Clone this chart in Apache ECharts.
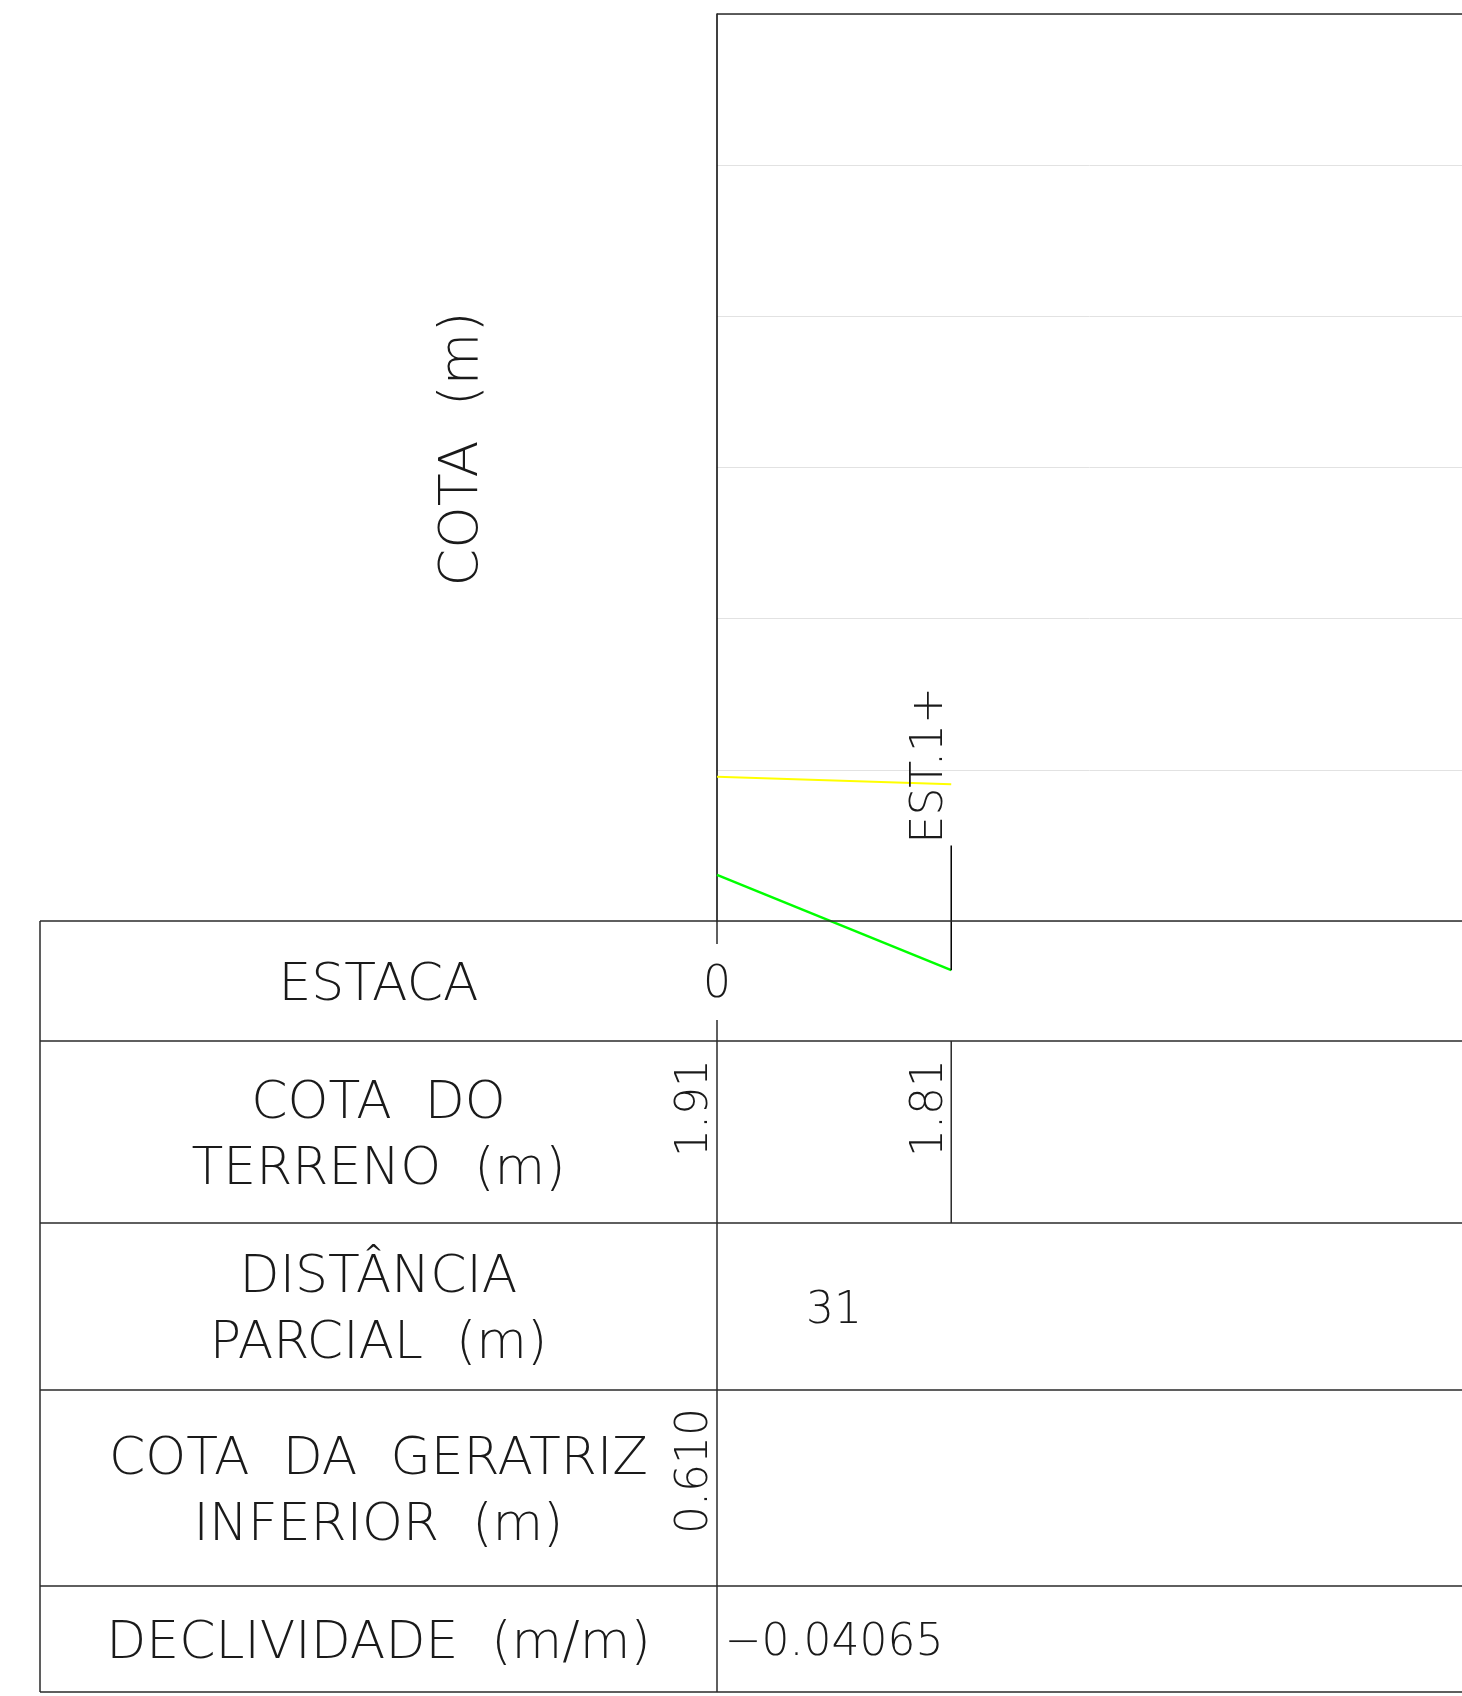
<!DOCTYPE html>
<html><head><meta charset="utf-8">
<script src="https://cdn.jsdelivr.net/npm/echarts@6/dist/echarts.min.js"></script>
<style>html,body{margin:0;padding:0;background:#fff}#chart{width:1462px;height:1696px}</style>
</head><body><div id="chart"></div>
<script>
// ---- data ----
const stationDist = [0, 31];
const stationNames = ['0', 'EST.1+'];
const terrainElev = [1.91, 1.81];
const invertElev = [0.610, -0.650];
const invertShown = [true, false];
const partialDist = [31];
const slopes = [-0.04065];
const stationMarkTop = 1.0;
const yAxisTitle = 'COTA  (m)';
const rowLabels = [['ESTACA'], ['COTA  DO', 'TERRENO  (m)'], ['DISTÂNCIA', 'PARCIAL  (m)'], ['COTA  DA  GERATRIZ', 'INFERIOR  (m)'], ['DECLIVIDADE  (m/m)']];

// ---- layout ----
const W = 1462, H = 1696;
const gridLeft = 717, gridTop = 14, gridBottomY = 921;
const tableLeft = 40;
const rowEdges = [921, 1041, 1223, 1390, 1586, 1692];
const FONT = "'DejaVu Sans ExtraLight', 'DejaVu Sans', sans-serif";
const FW = 200;
const TXT = '#1a1a1a';
const LINE = '#2a2a2a';
const DY = 5;     // baseline nudge for horizontal text
const ROT_OFF = 21; // rotated text centre offset left of station line

const chart = echarts.init(document.getElementById('chart'), null, {renderer: 'canvas'});

const option = {
  animation: false,
  backgroundColor: '#ffffff',
  grid: {left: gridLeft, top: gridTop, right: 0, bottom: H - gridBottomY, containLabel: false},
  xAxis: {
    type: 'value', min: 0, max: 98.6,
    axisLine: {show: false}, axisTick: {show: false}, axisLabel: {show: false}, splitLine: {show: false}
  },
  yAxis: {
    type: 'value', min: 0, max: 12, interval: 2,
    axisLine: {show: true, lineStyle: {color: '#000', width: 1.5}},
    axisTick: {show: false}, axisLabel: {show: false},
    splitLine: {show: true, lineStyle: {color: '#e2e2e2', width: 1}}
  },
  series: [
    {
      type: 'line', name: 'terreno', clip: false, symbol: 'none', z: 3,
      data: stationDist.map((d, i) => [d, terrainElev[i]]),
      lineStyle: {color: '#ffff00', width: 2}
    },
    {
      type: 'line', name: 'geratriz', clip: false, symbol: 'none', z: 3,
      data: stationDist.map((d, i) => [d, invertElev[i]]),
      lineStyle: {color: '#00ff00', width: 2.5}
    },
    ...stationDist.slice(1).map((d, k) => ({
      type: 'line', name: 'marco' + (k + 1), clip: false, symbol: 'none', z: 4,
      data: [[d, invertElev[k + 1]], [d, stationMarkTop]],
      lineStyle: {color: '#000', width: 1.5}
    }))
  ]
};
chart.setOption(option);

function px(x, y) { return chart.convertToPixel({gridIndex: 0}, [x, y]); }
function hline(x1, x2, y, w) {
  return {type: 'line', silent: true, z: 10, shape: {x1, y1: y, x2, y2: y}, style: {stroke: LINE, lineWidth: w || 1.5}};
}
function vline(x, y1, y2, w) {
  return {type: 'line', silent: true, z: 10, shape: {x1: x, y1, x2: x, y2}, style: {stroke: LINE, lineWidth: w || 1.5}};
}
function T(text, x, y, size, align, valign, rot) {
  return {type: 'text', silent: true, z: 11, x, y, rotation: rot || 0,
    style: {text, fill: TXT, fontSize: size, fontFamily: FONT, fontWeight: FW,
      align: align, verticalAlign: valign, textAlign: align, textVerticalAlign: valign}};
}

const g = [];
const topY = px(0, 12)[1];
const xs = stationDist.map(d => px(d, 0)[0]);
// top border
g.push(hline(xs[0], W, topY, 1.5));
// table
rowEdges.forEach(y => g.push(hline(tableLeft, W, y, 1.5)));
g.push(vline(tableLeft, rowEdges[0], rowEdges[rowEdges.length - 1]));
g.push(vline(xs[0], rowEdges[1], rowEdges[rowEdges.length - 1]));
g.push(vline(xs[0], rowEdges[0], rowEdges[0] + 23));
g.push(vline(xs[0], rowEdges[1] - 21, rowEdges[1]));
for (let i = 1; i < xs.length; i++) g.push(vline(xs[i], rowEdges[1], rowEdges[2]));

// row labels
const labelCx = (tableLeft + xs[0]) / 2;
rowLabels.forEach((lines, r) => {
  const cy = (rowEdges[r] + rowEdges[r + 1]) / 2 + DY;
  const gap = 66;
  lines.forEach((ln, j) => {
    const y = cy + (j - (lines.length - 1) / 2) * gap;
    g.push(T(ln, labelCx, y, 52, 'center', 'middle'));
  });
});

// axis title
g.push(T(yAxisTitle, 463, 449, 54, 'center', 'middle', Math.PI / 2));

// station names
g.push(T(stationNames[0], xs[0], (rowEdges[0] + rowEdges[1]) / 2 + DY, 44, 'center', 'middle'));
for (let i = 1; i < xs.length; i++) {
  const yb = px(stationDist[i], stationMarkTop)[1] - 2;
  g.push(T(stationNames[i], xs[i] - ROT_OFF, yb, 44, 'left', 'middle', Math.PI / 2));
}
// terrain elevations
terrainElev.forEach((v, i) => {
  g.push(T(v.toFixed(2), xs[i] - ROT_OFF, rowEdges[1] + 18, 44, 'right', 'middle', Math.PI / 2));
});
// partial distances & slopes
partialDist.forEach((d, i) => {
  const cx = (xs[i] + xs[i + 1]) / 2;
  g.push(T(String(d), cx, (rowEdges[2] + rowEdges[3]) / 2 + DY, 44, 'center', 'middle'));
  g.push(T(slopes[i].toFixed(5).replace('-', '\u2212'), cx, (rowEdges[4] + rowEdges[5]) / 2 + DY, 44, 'center', 'middle'));
});
// invert elevations
invertElev.forEach((v, i) => {
  if (!invertShown[i]) return;
  g.push(T(v.toFixed(3), xs[i] - ROT_OFF, rowEdges[3] + 18, 44, 'right', 'middle', Math.PI / 2));
});

chart.setOption({graphic: {elements: g}});
</script></body></html>
